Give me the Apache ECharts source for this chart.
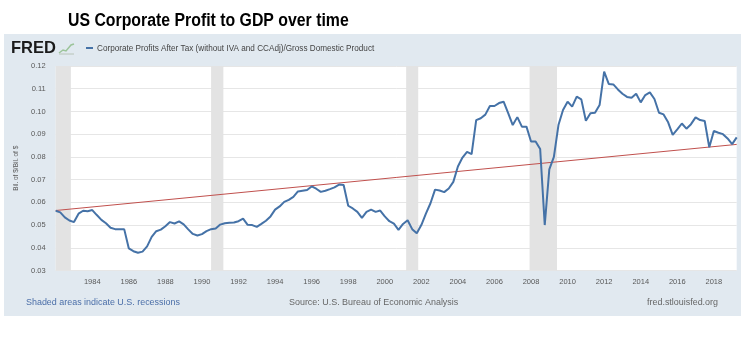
<!DOCTYPE html>
<html>
<head>
<meta charset="utf-8">
<script src="https://cdn.jsdelivr.net/npm/echarts@6/dist/echarts.min.js"></script>
<style>
  html, body { margin: 0; padding: 0; background: #fff; }
  #chart { width: 746px; height: 350px; }
</style>
</head>
<body>
<div id="chart"></div>
<script>
// quarterly CP/GDP ratio, 1982 Q1 .. 2019 Q2
const startYear = 1982
const ratio = [
  0.0563, 0.0556, 0.0534, 0.0520, 0.0513, 0.0550, 0.0563, 0.0561,
  0.0566, 0.0544, 0.0523, 0.0508, 0.0488, 0.0482, 0.0481, 0.0481,
  0.0397, 0.0385, 0.0378, 0.0383, 0.0406, 0.0448, 0.0473, 0.0480,
  0.0495, 0.0513, 0.0507, 0.0516, 0.0503, 0.0481, 0.0461, 0.0454,
  0.0460, 0.0473, 0.0482, 0.0485, 0.0502, 0.0508, 0.0510, 0.0511,
  0.0517, 0.0528, 0.0501, 0.0500, 0.0492, 0.0505, 0.0519, 0.0538,
  0.0568, 0.0582, 0.0602, 0.0611, 0.0624, 0.0648, 0.0651, 0.0654,
  0.0670, 0.0660, 0.0646, 0.0651, 0.0658, 0.0666, 0.0678, 0.0676,
  0.0585, 0.0573, 0.0558, 0.0532, 0.0558, 0.0568, 0.0558, 0.0564,
  0.0538, 0.0517, 0.0506, 0.0479, 0.0505, 0.0521, 0.0482, 0.0464,
  0.0500, 0.0550, 0.0596, 0.0656, 0.0652, 0.0645, 0.0661, 0.0690,
  0.0758, 0.0797, 0.0822, 0.0812, 0.0962, 0.0970, 0.0986, 0.1024,
  0.1024, 0.1037, 0.1043, 0.0993, 0.0940, 0.0975, 0.0933, 0.0933,
  0.0868, 0.0868, 0.0835, 0.0500, 0.0745, 0.0800, 0.0940, 0.1006,
  0.1043, 0.1021, 0.1065, 0.1053, 0.0959, 0.0992, 0.0994, 0.1028,
  0.1175, 0.1121, 0.1119, 0.1097, 0.1078, 0.1064, 0.1060, 0.1078,
  0.1040, 0.1072, 0.1084, 0.1055, 0.0994, 0.0987, 0.0952, 0.0897,
  0.0921, 0.0947, 0.0924, 0.0944, 0.0974, 0.0962, 0.0958, 0.0842,
  0.0914, 0.0906, 0.0900, 0.0881, 0.0856, 0.0886
]
// straight trend line, start and end
const trendYears = [1982, 2019.25]
const trendValues = [0.0564, 0.0855]
// NBER recessions as decimal years
const recessions = [
  [1982.0, 1982.83],
  [1990.5, 1991.17],
  [2001.17, 2001.83],
  [2007.92, 2009.42]
]

const points = ratio.map((v, i) => [startYear + i / 4, v])
const trend = trendYears.map((y, i) => [y, trendValues[i]])

const chart = echarts.init(document.getElementById('chart'))
const grey = '#595959'

chart.setOption({
  backgroundColor: '#fff',
  animation: false,
  textStyle: { fontFamily: 'Liberation Sans, Arial, sans-serif' },
  graphic: [
    { type: 'rect', z: -10, shape: { x: 4, y: 34, width: 737, height: 282 }, style: { fill: '#e1e9f0' } },
    {
      type: 'text', x: 68, y: 21, scaleX: 0.88,
      style: { text: 'US Corporate Profit to GDP over time', fontSize: 18, fontWeight: 'bold', fill: '#000', textVerticalAlign: 'middle', fontFamily: 'Liberation Sans' }
    },
    {
      type: 'text', x: 11, y: 48,
      style: { text: 'FRED', fontSize: 16.5, fontWeight: 900, fill: '#1b1b1b', textVerticalAlign: 'middle', fontFamily: 'Liberation Sans' }
    },
    { type: 'polyline', shape: { points: [[59, 53], [63, 50], [66, 51], [71, 45], [74, 44]] }, style: { stroke: '#9cc49a', lineWidth: 1.5, fill: null } },
    { type: 'polyline', shape: { points: [[59, 54], [74, 54]] }, style: { stroke: '#b8c4b8', lineWidth: 1 } },
    { type: 'line', shape: { x1: 86, y1: 48, x2: 93, y2: 48 }, style: { stroke: '#4572a7', lineWidth: 2 } },
    {
      type: 'text', x: 97, y: 48, scaleX: 0.86,
      style: { text: 'Corporate Profits After Tax (without IVA and CCAdj)/Gross Domestic Product', fontSize: 9.5, fill: '#444', textVerticalAlign: 'middle' }
    },
    {
      type: 'text', x: 26, y: 302, scaleX: 0.94,
      style: { text: 'Shaded areas indicate U.S. recessions', fontSize: 9.5, fill: '#4a6ea8', textVerticalAlign: 'middle' }
    },
    {
      type: 'text', x: 289, y: 302, scaleX: 0.94,
      style: { text: 'Source: U.S. Bureau of Economic Analysis', fontSize: 9.5, fill: '#666', textVerticalAlign: 'middle' }
    },
    {
      type: 'text', x: 718, y: 302, scaleX: 0.94,
      style: { text: 'fred.stlouisfed.org', fontSize: 9.5, fill: '#666', textVerticalAlign: 'middle', align: 'right' }
    }
  ],
  grid: {
    left: 55.7, right: 9.3, top: 66, bottom: 79.5,
    show: true, backgroundColor: '#fff', borderWidth: 0
  },
  xAxis: {
    type: 'value',
    min: 1982, max: 2019.25, interval: 2,
    axisLine: { show: false },
    axisTick: { show: false },
    splitLine: { show: false },
    axisLabel: {
      color: grey, fontSize: 7.5, margin: 7,
      showMaxLabel: false,
      formatter: v => (v === 1982 || v % 2 !== 0 ? '' : String(v))
    }
  },
  yAxis: {
    type: 'value',
    min: 0.03, max: 0.12, interval: 0.01,
    name: 'Bil. of $/Bil. of $',
    nameLocation: 'middle', nameGap: 30, nameRotate: 90,
    nameTextStyle: { color: grey, fontSize: 6.5 },
    axisLine: { show: false },
    axisTick: { show: false },
    splitLine: { lineStyle: { color: '#e6e6e6', width: 1 } },
    axisLabel: { color: grey, fontSize: 7.5, margin: 10, formatter: v => v.toFixed(2) }
  },
  series: [
    {
      type: 'line', data: [], z: 1, silent: true,
      markArea: {
        silent: true,
        itemStyle: { color: '#e3e3e3' },
        data: recessions.map(r => [{ xAxis: r[0] }, { xAxis: r[1] }])
      }
    },
    {
      type: 'line', data: trend, symbol: 'none', z: 3,
      lineStyle: { color: '#c0504d', width: 1 }
    },
    {
      type: 'line', data: points, symbol: 'none', z: 4,
      lineStyle: { color: '#4572a7', width: 2 }
    }
  ]
})
</script>
</body>
</html>
